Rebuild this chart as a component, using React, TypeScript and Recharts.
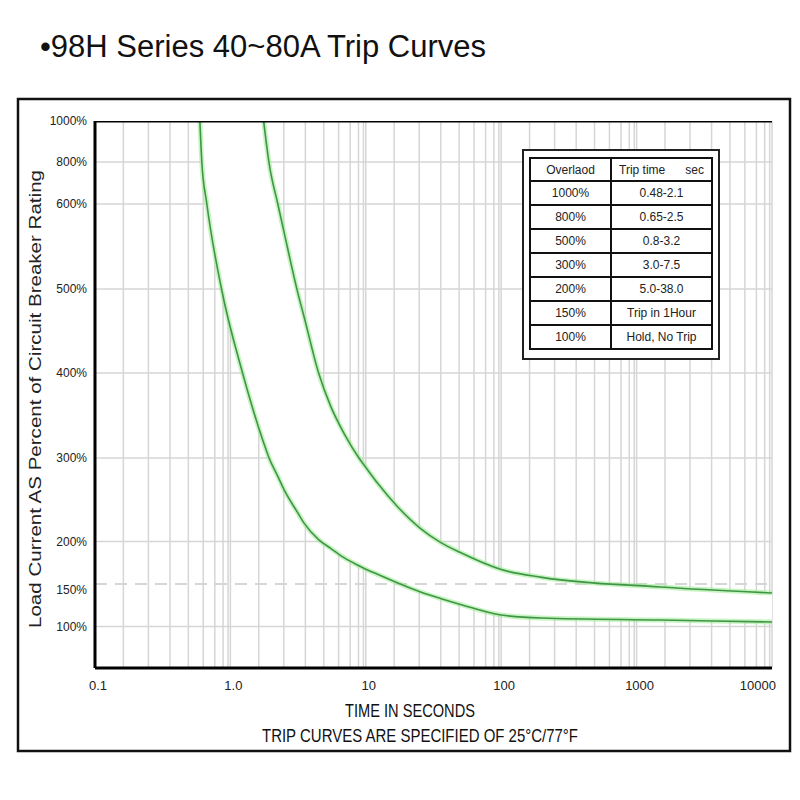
import React from 'react';
import { ComposedChart, Line, Area, XAxis, YAxis, CartesianGrid } from 'recharts';

// trip time (seconds), with both curve edges (percent of rating) at each time
const TIMES = [0.595, 0.615, 0.67, 0.86, 1.23, 1.76, 1.93, 2.24, 2.49, 3.14, 3.5, 4.5, 5.5, 6.9, 8.9, 10.3, 12.2, 17.1, 25.4, 35.6, 50, 100, 200, 1500, 10000];
const MIN_TRIP = [1000, 800, 600, 500, 400, 318, 300, 278, 262, 234.5, 222, 202, 192, 181, 171.5, 166.5, 161.5, 151.5, 140.6, 133, 126, 113.5, 110, 107.6, 105.3];
const MAX_TRIP = [null, null, null, null, null, 1000, 795, 600, 567, 496, 467, 399, 361, 329, 300, 286, 270, 242, 215.5, 199, 187, 167, 157.8, 146.5, 139.4];

const X_TICKS = [0.1, 1, 10, 100, 1000, 10000];
const X_TICK_LABELS = ['0.1', '1.0', '10', '100', '1000', '10000'];
const MINOR_STEPS = [1.62, 2.48, 3.58, 4.89, 6.3, 7.67, 8.83, 9.61];

// the percent axis is not linear: each level has its own stop on the axis
const Y_TICK_PCT = [100, 150, 200, 300, 400, 500, 600, 800, 1000];
const Y_TICK_POS = [41.5, 84, 126.5, 210, 295, 379, 464, 506, 547];
const DASHED_PCT = 150;

const TABLE_OVERLOAD = ['1000%', '800%', '500%', '300%', '200%', '150%', '100%'];
const TABLE_TRIP = ['0.48-2.1', '0.65-2.5', '0.8-3.2', '3.0-7.5', '5.0-38.0', 'Trip in 1Hour', 'Hold, No Trip'];

const Y_TOP = Y_TICK_POS[Y_TICK_POS.length - 1];
const PCT_TOP = Y_TICK_PCT[Y_TICK_PCT.length - 1];

function toPos(pct: number) {
  if (pct <= Y_TICK_PCT[0]) {
    const slope = (Y_TICK_POS[1] - Y_TICK_POS[0]) / (Y_TICK_PCT[1] - Y_TICK_PCT[0]);
    return Y_TICK_POS[0] - (Y_TICK_PCT[0] - pct) * slope;
  }
  for (let i = 1; i < Y_TICK_PCT.length; i++) {
    if (pct <= Y_TICK_PCT[i]) {
      const f = (pct - Y_TICK_PCT[i - 1]) / (Y_TICK_PCT[i] - Y_TICK_PCT[i - 1]);
      return Y_TICK_POS[i - 1] + f * (Y_TICK_POS[i] - Y_TICK_POS[i - 1]);
    }
  }
  return Y_TOP;
}

const chartData = TIMES.map((t, i) => {
  const hi = MAX_TRIP[i];
  return {
    t,
    lower: toPos(MIN_TRIP[i]),
    upper: hi == null ? null : toPos(hi),
    band: [toPos(MIN_TRIP[i]), toPos(hi == null ? PCT_TOP : hi)],
  };
});

const xEnds = [X_TICKS[0], X_TICKS[X_TICKS.length - 1]];
const dashedData = xEnds.map((t) => ({ t, v: toPos(DASHED_PCT) }));
const topData = xEnds.map((t) => ({ t, v: Y_TOP }));

const verticalGrid: number[] = [];
X_TICKS.slice(0, -1).forEach((d) => {
  verticalGrid.push(d);
  MINOR_STEPS.forEach((m) => verticalGrid.push(d * m));
});
verticalGrid.push(X_TICKS[X_TICKS.length - 1]);

const horizontalGrid = Y_TICK_POS.filter((_, i) => Y_TICK_PCT[i] !== DASHED_PCT && Y_TICK_PCT[i] !== PCT_TOP);

const FONT = '"Liberation Sans", Arial, sans-serif';
const GRID = '#d6d6d6';
const GLOW = '#a3ec98';
const CURVE = '#3f9547';

function XTick(props: any) {
  const { x, y, payload } = props;
  const i = X_TICKS.indexOf(payload.value);
  const last = i === X_TICKS.length - 1;
  return (
    <text x={last ? x + 4 : x + 3} y={y} dy={14} textAnchor={last ? 'end' : 'middle'} fontSize={13} fontFamily={FONT} fill="#222">
      {X_TICK_LABELS[i]}
    </text>
  );
}

function YTick(props: any) {
  const { x, y, payload } = props;
  const i = Y_TICK_POS.indexOf(payload.value);
  if (i < 0) return null;
  // the 150% label sits a little under its dashed line in the original
  const shift = Y_TICK_PCT[i] === DASHED_PCT ? 6 : 0;
  return (
    <text x={x} y={y + shift} dy={4} textAnchor="end" fontSize={12} fontFamily={FONT} fill="#222">
      {`${Y_TICK_PCT[i]}%`}
    </text>
  );
}

export default function App() {
  return (
    <div style={{ position: 'absolute', left: 0, top: 0, width: 800, height: 800, background: '#fff' }}>
      <ComposedChart width={800} height={800} data={chartData} margin={{ top: 121, right: 28, bottom: 102, left: 35 }}>
        <CartesianGrid horizontalValues={horizontalGrid} verticalValues={verticalGrid} stroke={GRID} strokeWidth={1.5} />
        <XAxis
          dataKey="t"
          type="number"
          scale="log"
          domain={[0.1, 10000]}
          ticks={X_TICKS}
          interval={0}
          allowDataOverflow
          height={30}
          tickLine={false}
          axisLine={{ stroke: '#000', strokeWidth: 3 }}
          tick={<XTick />}
        />
        <YAxis
          type="number"
          domain={[0, Y_TOP]}
          ticks={Y_TICK_POS}
          interval={0}
          allowDataOverflow
          width={60}
          tickLine={false}
          axisLine={{ stroke: '#000', strokeWidth: 3 }}
          tick={<YTick />}
        />
        <Area type="monotone" dataKey="band" fill="#fff" fillOpacity={1} stroke="none" isAnimationActive={false} />
        <Line data={dashedData} dataKey="v" stroke={GRID} strokeWidth={2} strokeDasharray="12 8" dot={false} isAnimationActive={false} />
        <Line type="monotone" dataKey="lower" stroke={GLOW} strokeWidth={5} strokeOpacity={0.6} dot={false} isAnimationActive={false} />
        <Line type="monotone" dataKey="upper" stroke={GLOW} strokeWidth={5} strokeOpacity={0.6} dot={false} isAnimationActive={false} />
        <Line type="monotone" dataKey="lower" stroke={CURVE} strokeWidth={1.6} dot={false} isAnimationActive={false} />
        <Line type="monotone" dataKey="upper" stroke={CURVE} strokeWidth={1.6} dot={false} isAnimationActive={false} />
        <Line data={topData} dataKey="v" stroke="#000" strokeWidth={3} dot={false} isAnimationActive={false} />
      </ComposedChart>

      <svg width={800} height={800} style={{ position: 'absolute', left: 0, top: 0, pointerEvents: 'none' }}>
        <rect x={18} y={99} width={772} height={652} fill="none" stroke="#111" strokeWidth={2.5} />
        <text x={40} y={57} fontSize={31} fontFamily={FONT} fill="#111">•98H Series 40~80A Trip Curves</text>
        <text transform="translate(41,399) rotate(-90)" textAnchor="middle" fontSize={17} fontFamily={FONT} fill="#222" textLength={458} lengthAdjust="spacingAndGlyphs">
          Load Current AS Percent of Circuit Breaker Rating
        </text>
        <text x={410} y={717} textAnchor="middle" fontSize={18} fontFamily={FONT} fill="#111" textLength={130} lengthAdjust="spacingAndGlyphs">
          TIME IN SECONDS
        </text>
        <text x={420} y={742} textAnchor="middle" fontSize={18} fontFamily={FONT} fill="#111" textLength={316} lengthAdjust="spacingAndGlyphs">
          TRIP CURVES ARE SPECIFIED OF 25°C/77°F
        </text>
      </svg>

      <div
        style={{
          position: 'absolute',
          left: 522,
          top: 149,
          width: 198,
          height: 211,
          boxSizing: 'border-box',
          border: '2px solid #222',
          background: '#fff',
          padding: '6px 5px',
        }}
      >
        <table
          style={{
            borderCollapse: 'collapse',
            width: '100%',
            fontFamily: FONT,
            fontSize: 12,
            color: '#222',
            textAlign: 'center',
          }}
        >
          <tbody>
            <tr style={{ height: 23 }}>
              <td style={{ border: '2.5px solid #111', width: 79, padding: 0 }}>Overlaod</td>
              <td style={{ border: '2.5px solid #111', padding: 0, whiteSpace: 'pre' }}>Trip time      sec</td>
            </tr>
            {TABLE_OVERLOAD.map((o, i) => (
              <tr key={o} style={{ height: 24 }}>
                <td style={{ border: '2.5px solid #111', padding: 0 }}>{o}</td>
                <td style={{ border: '2.5px solid #111', padding: 0 }}>{TABLE_TRIP[i]}</td>
              </tr>
            ))}
          </tbody>
        </table>
      </div>
    </div>
  );
}
